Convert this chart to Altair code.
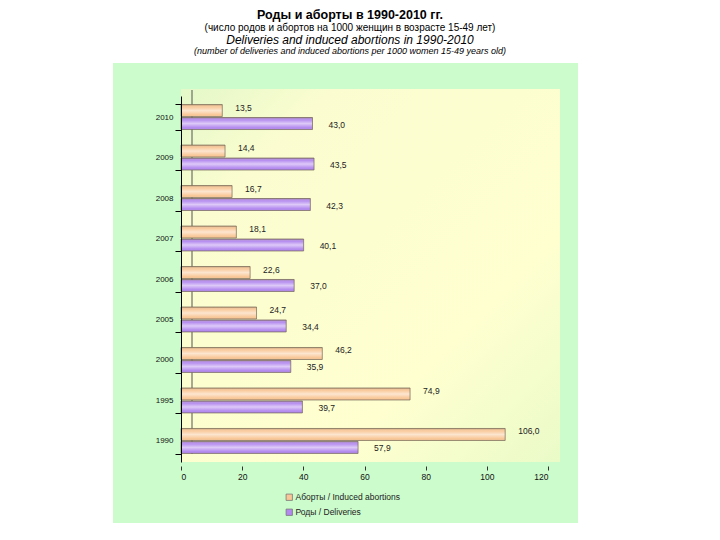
import altair as alt
import pandas as pd

years = ["2010", "2009", "2008", "2007", "2006", "2005", "2000", "1995", "1990"]
abortions = [13.5, 14.4, 16.7, 18.1, 22.6, 24.7, 46.2, 74.9, 106.0]
deliveries = [43.0, 43.5, 42.3, 40.1, 37.0, 34.4, 35.9, 39.7, 57.9]
series = ["Аборты / Induced abortions", "Роды / Deliveries"]
x_ticks = [0, 20, 40, 60, 80, 100, 120]
title_lines = [
    "Роды и аборты в 1990-2010 гг.",
    "(число родов и абортов на 1000 женщин в возрасте 15-49 лет)",
    "Deliveries and induced abortions in 1990-2010",
    "(number of deliveries and induced abortions per 1000 women 15-49 years old)",
]

rows = []
for yr, a, d in zip(years, abortions, deliveries):
    rows.append({"year": yr, "series": series[0], "value": a})
    rows.append({"year": yr, "series": series[1], "value": d})
df = pd.DataFrame(rows)

W, H = 367, 366
FONT = "Liberation Sans"

base = alt.Chart(df).transform_calculate(
    label="replace(format(datum.value, '.1f'), '.', ',')"
)

y_enc = alt.Y(
    "year:N", sort=years,
    scale=alt.Scale(paddingInner=0.36, paddingOuter=0.2),
    axis=alt.Axis(title=None, labelFontSize=8, labelColor="#111", domainColor="#000",
                  tickColor="#000", tickSize=6, tickBand="extent", labelPadding=2,
                  domainWidth=1, zindex=1),
)
x_enc = alt.X(
    "value:Q", scale=alt.Scale(domain=[0, 120], nice=False),
    axis=alt.Axis(title=None, values=x_ticks, domain=False, grid=False, tickSize=4,
                  tickColor="#333", offset=4, labelFontSize=8.5, labelColor="#111",
                  labelPadding=2, zindex=1),
)
yoff = alt.YOffset("series:N", sort=series, scale=alt.Scale(paddingInner=0.0))

one = pd.DataFrame({"k": [0]})

panel = alt.Chart(one).mark_rect(color="#ccfccc").encode(
    x=alt.value(-68), x2=alt.value(397), y=alt.value(-33), y2=alt.value(427)
)
plotbg = alt.Chart(one).mark_rect(
    fill=alt.Gradient(
        gradient="linear", x1=0, y1=0, x2=1, y2=1,
        stops=[alt.GradientStop(color="#e4f8c8", offset=0),
               alt.GradientStop(color="#fbfdd0", offset=0.2),
               alt.GradientStop(color="#ffffd0", offset=0.7),
               alt.GradientStop(color="#eafbc8", offset=1)],
    )
).encode(x=alt.value(0), x2=alt.value(379), y=alt.value(-7), y2=alt.value(H))

wall = alt.Chart(one).mark_rule(color="#555", strokeWidth=1).encode(
    x=alt.value(11), y=alt.value(-6), y2=alt.value(358)
)

bars = base.mark_bar(size=12).encode(
    y=y_enc, x=x_enc, yOffset=yoff,
    color=alt.Color(
        "series:N", sort=series,
        scale=alt.Scale(domain=series, range=["#f9c797", "#b389ef"]),
        legend=alt.Legend(title=None, orient="none", legendX=104, legendY=397,
                          symbolType="square", symbolSize=40, symbolStrokeColor="#777",
                          symbolStrokeWidth=0.8, labelFontSize=8.5, labelColor="#222",
                          rowPadding=4, labelOffset=2),
    ),
)

shine = base.mark_bar(
    size=12, stroke="#75695a", strokeWidth=0.7,
    fill=alt.Gradient(
        gradient="linear", x1=0, y1=0, x2=0, y2=1,
        stops=[alt.GradientStop(color="rgba(110,85,50,0.45)", offset=0),
               alt.GradientStop(color="rgba(255,255,255,0.05)", offset=0.2),
               alt.GradientStop(color="rgba(255,255,255,0.55)", offset=0.5),
               alt.GradientStop(color="rgba(255,255,255,0.0)", offset=0.85),
               alt.GradientStop(color="rgba(60,40,60,0.12)", offset=1)],
    ),
).encode(y=alt.Y("year:N", sort=years), x="value:Q", yOffset=yoff)

lab_a = base.transform_filter(alt.datum.series == series[0]).mark_text(
    align="left", baseline="middle", dx=13, dy=-3, fontSize=8.5, color="#222"
).encode(y=alt.Y("year:N", sort=years), x="value:Q", yOffset=yoff, text="label:N")
lab_d = base.transform_filter(alt.datum.series == series[1]).mark_text(
    align="left", baseline="middle", dx=16, dy=1, fontSize=8.5, color="#222"
).encode(y=alt.Y("year:N", sort=years), x="value:Q", yOffset=yoff, text="label:N")

tdf = pd.DataFrame({"t": title_lines})
def tline(i, size, weight="normal", style="normal", yv=0):
    return alt.Chart(tdf).transform_filter(alt.datum.t == title_lines[i]).mark_text(
        align="center", baseline="middle", fontSize=size, fontWeight=weight,
        fontStyle=style, color="#000"
    ).encode(x=alt.value(169), y=alt.value(yv), text="t:N")

titles = [
    tline(0, 12.5, "bold", yv=-81),
    tline(1, 10, yv=-68),
    tline(2, 12, style="italic", yv=-56),
    tline(3, 9, style="italic", yv=-45),
]

chart = alt.layer(panel, plotbg, wall, bars, shine, lab_a, lab_d, *titles).properties(
    width=W, height=H,
    autosize=alt.AutoSizeParams(type="none"),
    padding={"left": 173, "top": 88, "right": 164, "bottom": 70},
).configure(font=FONT).configure_view(stroke=None)

chart.save("out.html", embed_options={"renderer": "svg", "actions": False})
